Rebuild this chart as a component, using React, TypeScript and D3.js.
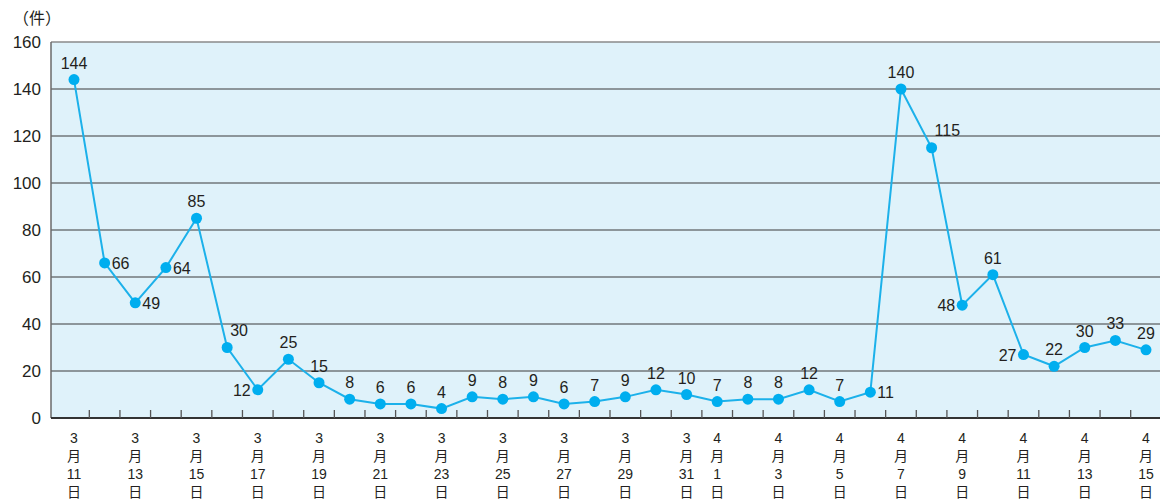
import React from "react";
import { scaleLinear, scalePoint, line } from "d3";

// days from 3/11 to 4/15
const dates = [
  "3/11", "3/12", "3/13", "3/14", "3/15", "3/16", "3/17", "3/18", "3/19", "3/20",
  "3/21", "3/22", "3/23", "3/24", "3/25", "3/26", "3/27", "3/28", "3/29", "3/30",
  "3/31", "4/1", "4/2", "4/3", "4/4", "4/5", "4/6", "4/7", "4/8", "4/9",
  "4/10", "4/11", "4/12", "4/13", "4/14", "4/15",
];
const counts = [
  144, 66, 49, 64, 85, 30, 12, 25, 15, 8,
  6, 6, 4, 9, 8, 9, 6, 7, 9, 12,
  10, 7, 8, 8, 12, 7, 11, 140, 115, 48,
  61, 27, 22, 30, 33, 29,
];
const labelledDates = [
  "3/11", "3/13", "3/15", "3/17", "3/19", "3/21", "3/23", "3/25", "3/27", "3/29",
  "3/31", "4/1", "4/3", "4/5", "4/7", "4/9", "4/11", "4/13", "4/15",
];
const yTicks = [0, 20, 40, 60, 80, 100, 120, 140, 160];

// where each value label sits relative to its dot
const labelSide: Record<number, string> = {
  1: "r", 2: "r", 3: "r", 5: "tr", 6: "l", 26: "r", 28: "tr", 29: "l", 31: "l",
};

const W = 1160;
const H = 500;
const left = 51;
const right = 1160;
const top = 42;
const bottom = 418;

const font = "'Liberation Sans', Arial, 'Noto Sans CJK JP', sans-serif";
const cjk = "'Noto Sans CJK JP', sans-serif";

export default function App() {
  const x = scalePoint<string>().domain(dates).range([74, 1146]);
  const y = scaleLinear().domain([0, 160]).range([bottom, top]);

  const path = line<number>()
    .x((_, i) => x(dates[i]) as number)
    .y((d) => y(d))(counts);

  return (
    <div style={{ position: "absolute", left: 0, top: 0 }}>
      <svg width={W} height={H} style={{ display: "block", fontFamily: font }}>
        <rect x={left} y={top} width={right - left} height={bottom - top} fill="#dff2fa" />

        {/* grid */}
        {yTicks.slice(1, -1).map((t) => (
          <line key={t} x1={left} x2={right} y1={y(t)} y2={y(t)} stroke="#3a3a3a" strokeWidth={1} />
        ))}
        <line x1={left} x2={right} y1={top} y2={top} stroke="#8a8a8a" strokeWidth={1.5} />
        <line x1={left} x2={left} y1={top} y2={bottom} stroke="#6a6a6a" strokeWidth={1.5} />
        <line x1={left} x2={right} y1={bottom} y2={bottom} stroke="#333" strokeWidth={2} />

        {/* ticks between days */}
        {dates.slice(0, -1).map((d, i) => {
          const mx = ((x(d) as number) + (x(dates[i + 1]) as number)) / 2;
          return <line key={d} x1={mx} x2={mx} y1={bottom} y2={bottom - 8} stroke="#555" strokeWidth={1.3} />;
        })}

        {/* y labels */}
        {yTicks.map((t) => (
          <text key={t} x={41} y={y(t)} dy="0.36em" textAnchor="end" fontSize={17} fill="#231f20">
            {t}
          </text>
        ))}
        <text x={13} y={24} fontSize={16} fill="#231f20" fontFamily={cjk}>（件）</text>

        {/* x labels, stacked vertically */}
        {labelledDates.map((d) => {
          const [m, day] = d.split("/");
          const cx = x(d) as number;
          return (
            <g key={d} textAnchor="middle" fontSize={14} fill="#231f20">
              <text x={cx} y={443}>{m}</text>
              <text x={cx} y={461} fontFamily={cjk}>月</text>
              <text x={cx} y={479}>{day}</text>
              <text x={cx} y={497} fontFamily={cjk}>日</text>
            </g>
          );
        })}

        <path d={path ?? ""} fill="none" stroke="#1cb1ea" strokeWidth={2} />
        {counts.map((c, i) => (
          <circle key={i} cx={x(dates[i])} cy={y(c)} r={5.5} fill="#00aeef" />
        ))}

        {/* value labels */}
        {counts.map((c, i) => {
          const cx = x(dates[i]) as number;
          const cy = y(c);
          const side = labelSide[i] ?? "t";
          let tx = cx;
          let ty = cy - 11;
          let anchor = "middle";
          if (side === "r") {
            tx = cx + 7;
            ty = cy + 6;
            anchor = "start";
          } else if (side === "l") {
            tx = cx - 7;
            ty = cy + 6;
            anchor = "end";
          } else if (side === "tr") {
            tx = cx + 3;
            ty = cy - 12;
            anchor = "start";
          }
          return (
            <text key={i} x={tx} y={ty} textAnchor={anchor} fontSize={16} fill="#231f20">
              {c}
            </text>
          );
        })}
      </svg>
    </div>
  );
}
